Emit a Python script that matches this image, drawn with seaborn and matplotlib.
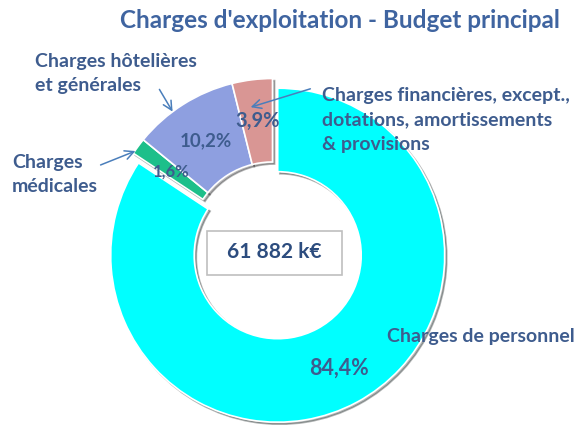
import numpy as np
import matplotlib
matplotlib.use("Agg")
import matplotlib.pyplot as plt
import matplotlib.patches as mpatches
import seaborn as sns

# data
categories = ["Charges de personnel", "Charges médicales",
              "Charges hôtelières et générales",
              "Charges financières, except., dotations, amortissements & provisions"]
values = [84.4, 1.6, 10.2, 3.9]
total_label = "61 882 k€"
title = "Charges d'exploitation - Budget principal"

colors = ["#00FFFF", "#1DBF8A", "#8E9FE0", "#D99694"]
TXT = "#3E5C8E"
ARROW = "#4A7EBB"
FONT = ["Lato", "DejaVu Sans"]

sns.set_style("white")
plt.rcParams["font.family"] = FONT

W, H = 575, 425
def Y(y):
    # image rows -> data y
    return H - y

fig = plt.figure(figsize=(W / 100, H / 100), dpi=100)
ax = fig.add_axes([0, 0, 1, 1])

R = 167
wedges, _ = ax.pie(values, colors=colors, startangle=90, counterclock=False,
                   radius=R, center=(272.5, Y(245.5)), explode=[11, 0, 0, 0],
                   wedgeprops=dict(width=R * 0.5, edgecolor="white", linewidth=1.2),
                   shadow={"ox": 1.5, "oy": -1.5, "shade": 0.95, "alpha": 0.3})
ax.set_xlim(0, W)
ax.set_ylim(0, H)
ax.set_aspect("equal")
ax.axis("off")

# percentage labels, placed along each wedge's mid angle
pct_dist = [0.77, 0.75, 0.74, 0.75]
pct_size = [15.5, 12, 13.5, 14.5]
for w, v, d, fs in zip(wedges, values, pct_dist, pct_size):
    th = np.deg2rad((w.theta1 + w.theta2) / 2)
    cx, cy = w.center
    ax.text(cx + d * w.r * np.cos(th), cy + d * w.r * np.sin(th),
            f"{v:.1f}".replace(".", ",") + "%", ha="center", va="center",
            fontsize=fs, fontweight="bold", color=TXT)

# centre box
ax.add_patch(mpatches.Rectangle((207, Y(275)), 135, 44, fc="white",
                                ec="#BFBFBF", lw=1.2, zorder=3))
ax.text(274.5, Y(252), total_label, ha="center", va="center", fontsize=15,
        fontweight="bold", color="#2C4C7E", zorder=4)

ax.text(340, Y(20), title, ha="center", va="center", fontsize=17.5,
        fontweight="bold", color="#3F64A0")

lab = dict(fontsize=14, fontweight="bold", color=TXT, va="top", ha="left",
           linespacing=1.53)
ax.text(35, Y(53), "Charges hôtelières\net générales", **lab)
ax.text(12, Y(154), "Charges\nmédicales", **lab)
ax.text(322, Y(87), "Charges financières, except.,\ndotations, amortissements\n& provisions", **lab)
ax.text(387, Y(328), categories[0], **lab)

arr = dict(arrowstyle="->", color=ARROW, lw=1.1, mutation_scale=16)
ax.annotate("", xy=(174, Y(114)), xytext=(158, Y(87)), arrowprops=arr)
ax.annotate("", xy=(138, Y(150)), xytext=(98, Y(166)), arrowprops=arr)
ax.annotate("", xy=(248, Y(108)), xytext=(313, Y(88)), arrowprops=arr)

fig.savefig("out.png", dpi=100, facecolor="white")
